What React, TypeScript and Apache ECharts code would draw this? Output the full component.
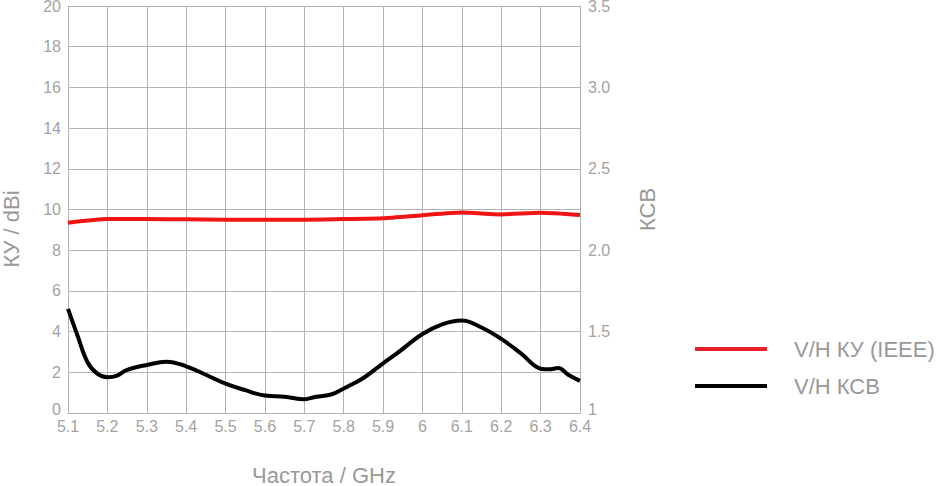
import React, { useEffect, useRef } from "react";
import * as echarts from "echarts";

// Gain (КУ, dBi) vs frequency (GHz)
const gainFreq = [5.1, 5.2, 5.3, 5.4, 5.5, 5.6, 5.7, 5.8, 5.9, 6.0, 6.1, 6.2, 6.3, 6.4];
const gainValues = [9.35, 9.53, 9.53, 9.52, 9.5, 9.5, 9.5, 9.53, 9.57, 9.72, 9.85, 9.76, 9.84, 9.73];

// SWR (КСВ) vs frequency (GHz)
const swrFreq = [
  5.1, 5.125, 5.15, 5.175, 5.2, 5.225, 5.25, 5.3, 5.35, 5.4, 5.45, 5.5, 5.55, 5.6,
  5.65, 5.7, 5.73, 5.77, 5.8, 5.85, 5.9, 5.935, 6.0, 6.05, 6.1, 6.15, 6.2, 6.25,
  6.3, 6.32, 6.345, 6.37, 6.4,
];
const swrValues = [
  1.64, 1.47, 1.31, 1.24, 1.22, 1.23, 1.265, 1.295, 1.315, 1.287, 1.235, 1.18, 1.14, 1.107,
  1.1, 1.085, 1.1, 1.115, 1.15, 1.215, 1.305, 1.366, 1.485, 1.545, 1.568, 1.525, 1.455, 1.366,
  1.272, 1.268, 1.276, 1.235, 1.197,
];

const seriesNames = ["V/H КУ (IEEE)", "V/H КСВ"];
const axisNames = { x: "Частота / GHz", left: "КУ / dBi", right: "КСВ" };

const FONT = "Arial, 'Liberation Sans', sans-serif";
const TEXT = "#a3a3a3";
const GRID = "#b3b3b3";

export default function App() {
  const ref = useRef<HTMLDivElement>(null);
  useEffect(() => {
    if (!ref.current) return;
    const chart = echarts.init(ref.current, null, { renderer: "svg" });
    chart.setOption({
      animation: false,
      backgroundColor: "#ffffff",
      textStyle: { fontFamily: FONT },
      grid: { left: 68, right: 360, top: 6, bottom: 73, containLabel: false, outerBoundsMode: "none" },
      legend: {
        orient: "vertical",
        left: 690,
        top: 333,
        icon: "rect",
        itemWidth: 72,
        itemHeight: 4,
        itemGap: 15,
        textStyle: { color: "#999999", fontSize: 22, fontFamily: FONT, padding: [0, 0, 0, 22] },
        data: seriesNames,
      },
      xAxis: {
        type: "value",
        min: 5.1,
        max: 6.4,
        interval: 0.1,
        name: axisNames.x,
        nameLocation: "middle",
        nameGap: 51,
        nameTextStyle: { color: "#999999", fontSize: 22, fontFamily: FONT },
        axisLine: { show: true, lineStyle: { color: GRID, width: 1 } },
        axisTick: { show: false },
        axisLabel: {
          color: TEXT,
          fontSize: 16,
          margin: 5,
          formatter: (v: number) => String(+v.toFixed(1)),
        },
        splitLine: { show: true, lineStyle: { color: GRID, width: 1 } },
      },
      yAxis: [
        {
          type: "value",
          min: 0,
          max: 20,
          interval: 2,
          name: axisNames.left,
          nameLocation: "middle",
          nameGap: 46,
          nameTextStyle: { color: "#999999", fontSize: 22, fontFamily: FONT, padding: [0, 39, 0, 0] },
          axisLine: { show: true, lineStyle: { color: GRID, width: 1 } },
          axisTick: { show: false },
          axisLabel: {
            color: TEXT,
            fontSize: 16,
            margin: 7,
            formatter: (v: number) => (v === 0 ? "{min|0}" : String(v)),
            rich: { min: { color: TEXT, fontSize: 16, padding: [0, 0, 8, 0] } },
          },
          splitLine: { show: true, lineStyle: { color: GRID, width: 1 } },
        },
        {
          type: "value",
          min: 1,
          max: 3.5,
          interval: 0.5,
          name: axisNames.right,
          nameLocation: "middle",
          nameGap: 56,
          nameTextStyle: { color: "#999999", fontSize: 22, fontFamily: FONT },
          position: "right",
          axisLine: { show: true, lineStyle: { color: GRID, width: 1 } },
          axisTick: { show: false },
          axisLabel: {
            color: TEXT,
            fontSize: 16,
            margin: 8,
            formatter: (v: number) => (v === 1 ? "{min|1}" : v.toFixed(1)),
            rich: { min: { color: TEXT, fontSize: 16, padding: [0, 0, 8, 0] } },
          },
          splitLine: { show: false },
        },
      ],
      series: [
        {
          name: seriesNames[0],
          type: "line",
          yAxisIndex: 0,
          data: gainFreq.map((f, i) => [f, gainValues[i]]),
          showSymbol: false,
          smooth: 0.2,
          lineStyle: { color: "#f01414", width: 4 },
          itemStyle: { color: "#e8202a" },
        },
        {
          name: seriesNames[1],
          type: "line",
          yAxisIndex: 1,
          data: swrFreq.map((f, i) => [f, swrValues[i]]),
          showSymbol: false,
          smooth: 0.4,
          lineStyle: { color: "#000000", width: 4 },
          itemStyle: { color: "#000000" },
        },
      ],
    });
    return () => chart.dispose();
  }, []);
  return (
    <div
      ref={ref}
      style={{ position: "fixed", left: 0, top: 0, width: 940, height: 486, background: "#fff" }}
    />
  );
}
